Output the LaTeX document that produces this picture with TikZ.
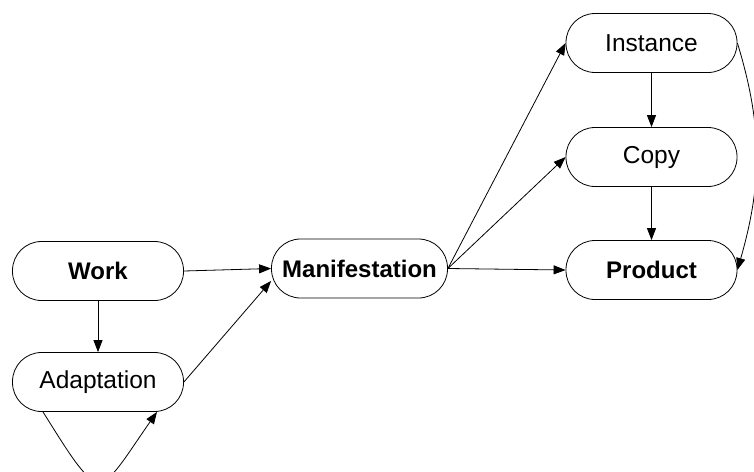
\documentclass[tikz,border=0pt]{standalone}
\usepackage{fontspec}
\setmainfont{Liberation Sans}
\usetikzlibrary{arrows.meta}
\begin{document}
\begin{tikzpicture}[x=1pt,y=-1pt,
  entity/.style={draw, line width=0.8pt, rounded corners=29pt,
    minimum width=171pt, minimum height=59pt, inner sep=0pt,
    font=\fontsize{24.5}{28}\selectfont},
  key/.style={entity, font=\fontsize{24}{28}\selectfont\bfseries},
  link/.style={line width=0.8pt, -{Triangle[length=12pt,width=9pt]}}]
\useasboundingbox (0,0) rectangle (754,471);
\clip (0,0) rectangle (754,471);

% work side
\node[key]    (work)  at (98,271)  {Work};
\node[entity] (adapt) at (98,382)  {Adaptation};
% manifestation
\node[key, minimum width=176pt] (man) at (359.5,268.5) {Manifestation};
% item side
\node[entity] (inst) at (651.5,43)  {Instance};
\node[entity] (copy) at (651.5,157) {Copy};
\node[key]    (prod) at (651.5,270) {Product};

% links between work, adaptation and manifestation
\draw[link] (work.east) -- (man.west);
\draw[link] (work.south) -- (adapt.north);
\draw[link] (adapt.east) -- (man.188);
\coordinate (loopA) at ([xshift=-55pt]adapt.south);
\coordinate (loopB) at ([xshift=59pt]adapt.south);
\draw[link] (loopA) .. controls +(60,96) and +(-60,86) .. (loopB);

% links to the items
\draw[link] (man.east) -- (inst.west);
\draw[link] (man.east) -- (copy.west);
\draw[link] (man.east) -- (prod.west);
\draw[link] (inst.south) -- (copy.north);
\draw[link] (copy.south) -- (prod.north);
\draw[link] (inst.east) to[out=-73, in=74] (prod.east);
\end{tikzpicture}
\end{document}
